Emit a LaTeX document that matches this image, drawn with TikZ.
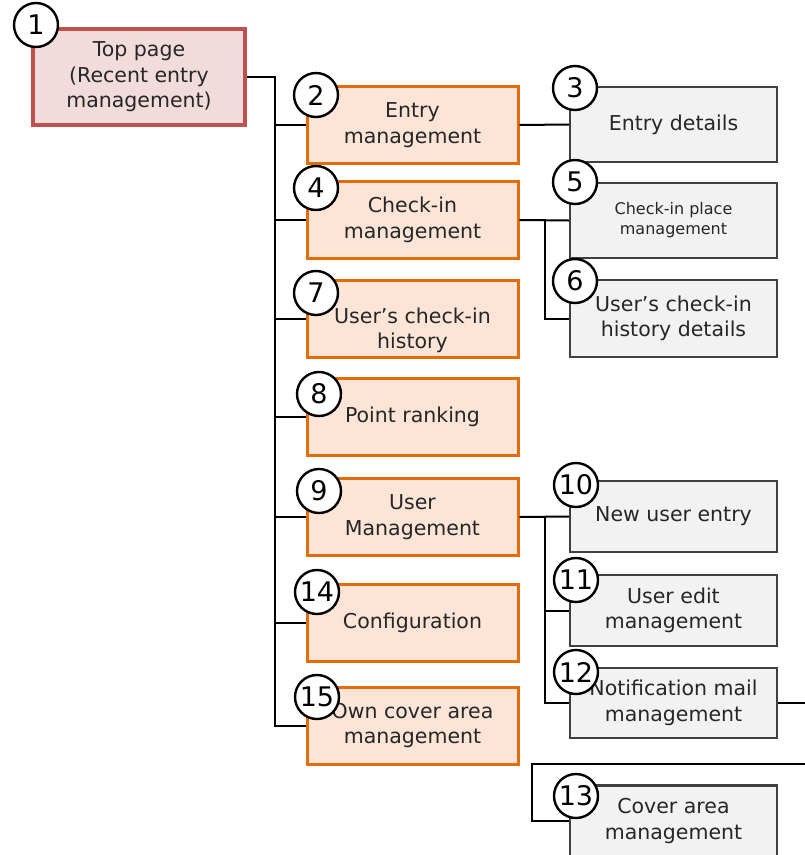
\documentclass[tikz,border=0pt]{standalone}
\usepackage{fontspec}
\setmainfont{DejaVu Sans}
\usetikzlibrary{positioning,calc}
\definecolor{toppink}{HTML}{F2DCDB}
\definecolor{topred}{HTML}{C0504D}
\definecolor{subfill}{HTML}{FCE4D6}
\definecolor{suborange}{HTML}{E46C0A}
\definecolor{detfill}{HTML}{F2F2F2}
\definecolor{detline}{HTML}{404040}
\definecolor{txtgray}{HTML}{262626}

\begin{document}
\begin{tikzpicture}[x=1pt,y=-1pt,
    every node/.style={font=\fontsize{20.5}{25.5}\selectfont,text=txtgray},
    topbox/.style={draw=topred,fill=toppink,line width=3.5pt,minimum width=212pt,minimum height=96pt,align=center},
    subbox/.style={draw=suborange,fill=subfill,line width=3pt,minimum width=211pt,minimum height=77pt,align=center},
    detbox/.style={draw=detline,fill=detfill,line width=2.2pt,minimum width=207pt,minimum height=#1,align=center},
    detbox/.default=75pt,
    numc/.style={circle,draw=black,fill=white,line width=2.4pt,minimum size=44pt,inner sep=0pt,font=\fontsize{27}{27}\selectfont,text=black},
    link/.style={line width=2pt}]
  \clip (0,0) rectangle (805,855);

  \node[topbox] (p1) at (139,77) {Top page\\(Recent entry\\management)};

  \node[subbox] (p2) at (412.5,125) {Entry\\management};
  \node[subbox] (p4) at (412.5,220) {Check-in\\management};
  \node[subbox,label={[yshift=-12pt,align=center]center:User’s check-in\\history}] (p7) at (412.5,318.5) {};
  \node[subbox] (p8) at (412.5,417) {Point ranking};
  \node[subbox] (p9) at (412.5,517) {User\\Management};
  \node[subbox] (p14) at (412.5,622.5) {Configuration};
  \node[subbox] (p15) at (412.5,725.5) {Own cover area\\management};

  \node[detbox] (p3) at (673.5,124.5) {Entry details};
  \node[detbox,font=\fontsize{16}{20}\selectfont] (p5) at (673.5,220.5) {Check-in place\\management};
  \node[detbox=77pt] (p6) at (673.5,318.5) {User’s check-in\\history details};
  \node[detbox=71pt] (p10) at (673.5,516.5) {New user entry};
  \node[detbox=71pt] (p11) at (673.5,610.5) {User edit\\management};
  \node[detbox=70pt] (p12) at (673.5,703) {Notification mail\\management};
  \node[detbox=71pt] (p13) at (673.5,821) {Cover area\\management};

  \coordinate (trunk) at (275,77);
  \coordinate (outR) at (812,0);
  \coordinate (outL) at (812,764);
  \coordinate (bend13) at (532,764);

  \draw[link] (p1.east) -- (trunk) |- (p15.west);
  \foreach \n in {p2,p4,p7,p8,p9,p14}
    \draw[link] (trunk |- \n.west) -- (\n.west);
  \draw[link] (p2.east) -- (p3.west);
  \draw[link] (p4.east) -- (p5.west);
  \draw[link] (p4.east) -- ++(25,0) |- (p6.west);
  \draw[link] (p9.east) -- (p10.west);
  \draw[link] (p9.east) -- ++(25,0) |- (p12.west);
  \draw[link] (p9.east) ++(25,0) |- (p11.west);
  \draw[link] (p12.east) -- (p12.east -| outR);
  \draw[link] (outL) -- (bend13) |- (p13.west);

  \foreach \n/\x/\y in {1/36/25,2/316/95,4/316/188,7/316/293,8/319/394,9/319/491,
      14/317/592,15/317/697,3/575/88,5/575/182,6/575/281,10/576/485,11/576/580,
      12/576/672,13/576/796}
    \node[numc] (c\n) at (\x,\y) {\n};
\end{tikzpicture}
\end{document}
